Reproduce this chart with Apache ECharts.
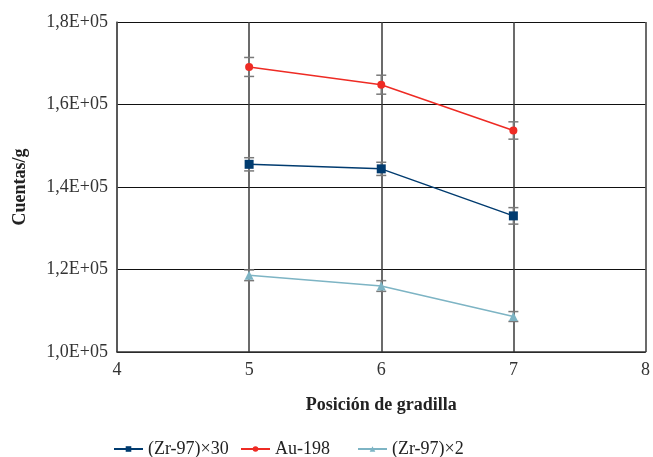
<!DOCTYPE html>
<html><head><meta charset="utf-8">
<script src="https://cdn.jsdelivr.net/npm/echarts@6/dist/echarts.min.js"></script>
<style>html,body{margin:0;padding:0;background:#fff}#c{width:653px;height:457px}</style>
</head><body><div id="c"></div>
<script>
const positions = [5, 6, 7];
const zr30 = [145500, 144400, 133000];
const zr30Err = [1600, 1600, 2000];
const au198 = [169100, 164800, 153700];
const au198Err = [2300, 2300, 2100];
const zr2 = [118600, 116000, 108600];
const zr2Err = [1300, 1300, 1200];
const seriesNames = ['(Zr-97)×30', 'Au-198', '(Zr-97)×2'];
const colors = ['#003b6f', '#ee2b24', '#7db4c4'];
const font = 'Liberation Serif';

function pairs(vals) { return positions.map((x, i) => [x, vals[i]]); }
function errData(vals, errs) { return positions.map((x, i) => [x, vals[i] - errs[i], vals[i] + errs[i]]); }
function errSeries(vals, errs) {
  return {
    type: 'custom', z: 1, silent: true,
    data: errData(vals, errs),
    renderItem: function (params, api) {
      const lo = api.coord([api.value(0), api.value(1)]);
      const hi = api.coord([api.value(0), api.value(2)]);
      const w = 5;
      const st = { stroke: '#7a7a7a', lineWidth: 1.5 };
      return { type: 'group', children: [
        { type: 'line', shape: { x1: lo[0], y1: lo[1], x2: hi[0], y2: hi[1] }, style: st },
        { type: 'line', shape: { x1: lo[0] - w, y1: lo[1], x2: lo[0] + w, y2: lo[1] }, style: st },
        { type: 'line', shape: { x1: hi[0] - w, y1: hi[1], x2: hi[0] + w, y2: hi[1] }, style: st }
      ]};
    }
  };
}
function lineSeries(name, vals, color, symbol, size) {
  return { name: name, type: 'line', z: 3, data: pairs(vals), symbol: symbol, symbolSize: size,
    lineStyle: { color: color, width: 1.5 }, itemStyle: { color: color } };
}
const chart = echarts.init(document.getElementById('c'), null, { renderer: 'canvas' });
const legendStyle = { fontFamily: font, fontSize: 18, color: '#222' };
function leg(i, left) {
  return { data: [seriesNames[i]], left: left, top: 440, padding: 0, itemWidth: 29, itemHeight: 7, itemGap: 0, textStyle: legendStyle };
}
chart.setOption({
  animation: false,
  grid: { left: 117, right: 2, top: 22, bottom: 105, show: false },
  legend: [leg(0, 113), leg(1, 240), leg(2, 357)],
  xAxis: {
    type: 'value', min: 4, max: 8, interval: 1,
    name: 'Posición de gradilla', nameLocation: 'middle', nameGap: 44,
    nameTextStyle: { fontFamily: font, fontSize: 18, fontWeight: 'bold', color: '#222' },
    axisLine: { lineStyle: { color: '#333', width: 1.5 } },
    axisTick: { show: false },
    axisLabel: { fontFamily: font, fontSize: 18, color: '#333', margin: 9 },
    splitLine: { show: true, lineStyle: { color: '#3a3a3a', width: 1.5 } }
  },
  yAxis: {
    type: 'value', min: 100000, max: 180000, interval: 20000,
    name: 'Cuentas/g', nameLocation: 'middle', nameGap: 88,
    nameTextStyle: { fontFamily: font, fontSize: 18, fontWeight: 'bold', color: '#222' },
    axisLine: { show: true, lineStyle: { color: '#555', width: 1.5 } },
    axisTick: { show: false },
    axisLabel: { fontFamily: font, fontSize: 18, color: '#333', margin: 9,
      formatter: v => (v / 100000).toFixed(1).replace('.', ',') + 'E+05' },
    splitLine: { show: true, lineStyle: { color: '#111', width: 1.2 } }
  },
  series: [
    errSeries(zr30, zr30Err), errSeries(au198, au198Err), errSeries(zr2, zr2Err),
    lineSeries(seriesNames[0], zr30, colors[0], 'rect', 9),
    lineSeries(seriesNames[1], au198, colors[1], 'circle', 8),
    lineSeries(seriesNames[2], zr2, colors[2], 'triangle', 9)
  ]
});
</script></body></html>
